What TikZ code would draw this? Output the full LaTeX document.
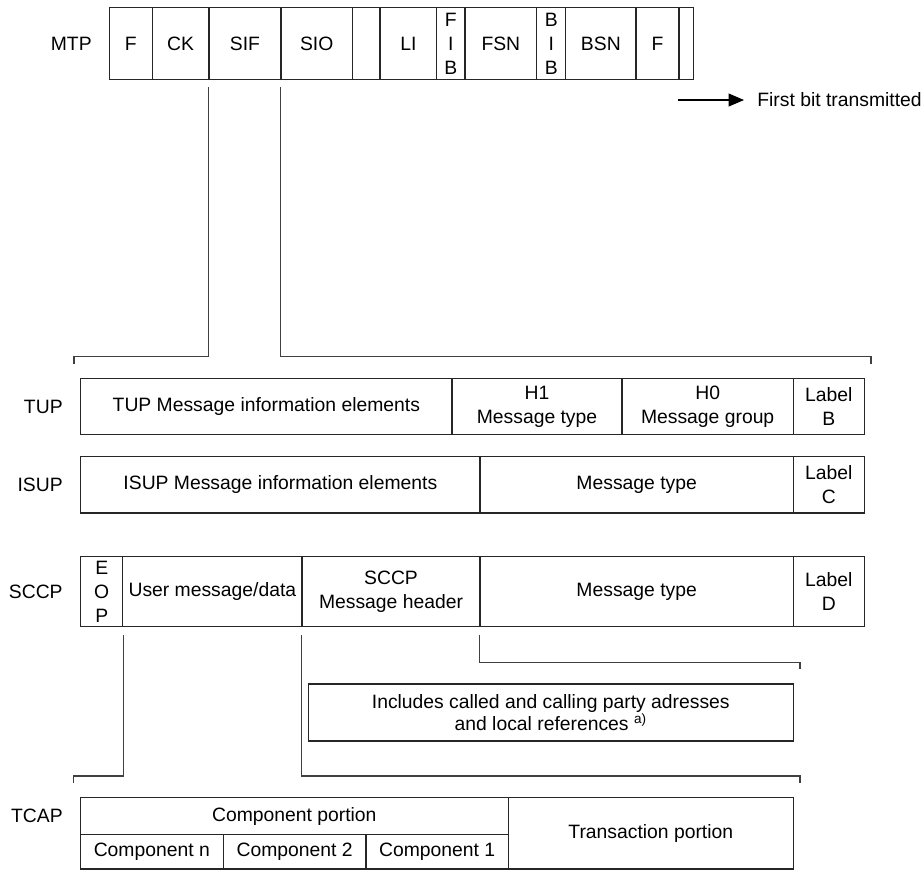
\documentclass[tikz,border=0pt]{standalone}
\usepackage{fontspec}
\setmainfont{Liberation Sans}
\usepackage{tikz}
\usetikzlibrary{arrows.meta}

\begin{document}
\begin{tikzpicture}[x=0.2mm,y=-0.2mm,font=\fontsize{11}{13.6}\selectfont,cellnode/.style={rectangle,draw=black!85,line width=0.6pt,inner sep=0pt,align=center},layernode/.style={anchor=east,inner sep=0pt},linkline/.style={draw=black!75,line width=0.6pt}]
		\useasboundingbox (0,0) rectangle (924,871);
		\node [layernode] (mtp) at (92,43.6) {MTP};
		\node [cellnode,minimum width=8.6mm,minimum height=14.26mm] (f1) at (130.8,43.6) {F};
		\node [cellnode,minimum width=11.34mm,minimum height=14.26mm] (ck) at (180.65,43.6) {CK};
		\node [cellnode,minimum width=14.4mm,minimum height=14.26mm] (sif) at (245,43.6) {SIF};
		\node [cellnode,minimum width=14.26mm,minimum height=14.26mm] (sio) at (316.65,43.6) {SIO};
		\node [cellnode,minimum width=5.54mm,minimum height=14.26mm] (spare) at (366.15,43.6) {};
		\node [cellnode,minimum width=11.34mm,minimum height=14.26mm] (li) at (408.35,43.6) {LI};
		\node [cellnode,minimum width=5.66mm,minimum height=14.26mm] (fib) at (450.85,43.6) {F\\I\\B};
		\node [cellnode,minimum width=14.34mm,minimum height=14.26mm] (fsn) at (500.85,43.6) {FSN};
		\node [cellnode,minimum width=5.8mm,minimum height=14.26mm] (bib) at (551.2,43.6) {B\\I\\B};
		\node [cellnode,minimum width=14.06mm,minimum height=14.26mm] (bsn) at (600.85,43.6) {BSN};
		\node [cellnode,minimum width=8.6mm,minimum height=14.26mm] (f2) at (657.5,43.6) {F};
		\node [cellnode,minimum width=2.86mm,minimum height=14.26mm] (fend) at (686.15,43.6) {};
		\node [anchor=west,inner sep=0pt] (firstbit) at (757,100) {First bit transmitted};
		\coordinate (bitstart) at (678,100);
		\node [layernode] (tup) at (63,406.5) {TUP};
		\node [cellnode,minimum width=74.26mm,minimum height=11.28mm] (tupinfo) at (266.35,406.5) {TUP Message information elements};
		\node [cellnode,minimum width=34mm,minimum height=11.28mm] (tuph1) at (537,406.5) {H1\\Message type};
		\node [cellnode,minimum width=34.26mm,minimum height=11.28mm] (tuph0) at (707.65,406.5) {H0\\Message group};
		\node [cellnode,minimum width=14.2mm,minimum height=11.28mm] (tuplabel) at (828.8,406.5) {Label\\B};
		\node [layernode] (isup) at (63,484.65) {ISUP};
		\node [cellnode,minimum width=79.86mm,minimum height=11.34mm] (isupinfo) at (280.35,484.65) {ISUP Message information elements};
		\node [cellnode,minimum width=62.66mm,minimum height=11.34mm] (isuptype) at (636.65,484.65) {Message type};
		\node [cellnode,minimum width=14.2mm,minimum height=11.34mm] (isuplabel) at (828.8,484.65) {Label\\C};
		\node [layernode] (sccp) at (63,591.5) {SCCP};
		\node [cellnode,minimum width=8.4mm,minimum height=14.08mm] (eop) at (101.7,591.5) {E\\O\\P};
		\node [cellnode,minimum width=35.86mm,minimum height=14.08mm] (userdata) at (212.35,591.5) {User message/data};
		\node [cellnode,minimum width=35.6mm,minimum height=14.08mm] (header) at (391,591.5) {SCCP\\Message header};
		\node [cellnode,minimum width=62.66mm,minimum height=14.08mm] (sccptype) at (636.65,591.5) {Message type};
		\node [cellnode,minimum width=14.2mm,minimum height=14.08mm] (sccplabel) at (828.8,591.5) {Label\\D};
		\node [cellnode,minimum width=97mm,minimum height=11.4mm,font=\fontsize{11}{12.4}\selectfont] (refs) at (550.8,712.5) {Includes called and calling party adresses\\and local references \textsuperscript{a)}};
		\node [layernode] (tcap) at (63,816) {TCAP};
		\node [cellnode,minimum width=85.6mm,minimum height=7.32mm] (cportion) at (294.3,816) {Component portion};
		\node [cellnode,minimum width=28.6mm,minimum height=6.94mm] (compn) at (151.8,851.65) {Component n};
		\node [cellnode,minimum width=28.54mm,minimum height=6.94mm] (comp2) at (294.65,851.65) {Component 2};
		\node [cellnode,minimum width=28.46mm,minimum height=6.94mm] (comp1) at (437.15,851.65) {Component 1};
		\node [cellnode,minimum width=57mm,minimum height=14.26mm] (tportion) at (650.8,833.35) {Transaction portion};
		\coordinate (tupleft) at (74,356.7);
		\coordinate (tupright) at (871,356.7);
		\coordinate (tcapleft) at (73.3,776);
		\coordinate (tcapright) at (800,776);
		\coordinate (refsright) at (800,662.3);
		\draw [-{Triangle[length=3.1mm,width=2.6mm]},line width=0.6pt] (bitstart) -- ([xshift=-2.6mm]firstbit.west);
		\draw [linkline] ([yshift=-1.5mm]sif.south west) |- (tupleft) -- ++(0,7);
		\draw [linkline] ([yshift=-1.5mm]sio.south west) |- (tupright) -- ++(0,7);
		\draw [linkline] ([yshift=-1.5mm]eop.south east) |- (tcapleft) -- ++(0,7);
		\draw [linkline] ([yshift=-1.5mm]header.south west) |- (tcapright) -- ++(0,7);
		\draw [linkline] ([yshift=-1.5mm]sccptype.south west) |- (refsright) -- ++(0,7);
	\end{tikzpicture}
\end{document}
